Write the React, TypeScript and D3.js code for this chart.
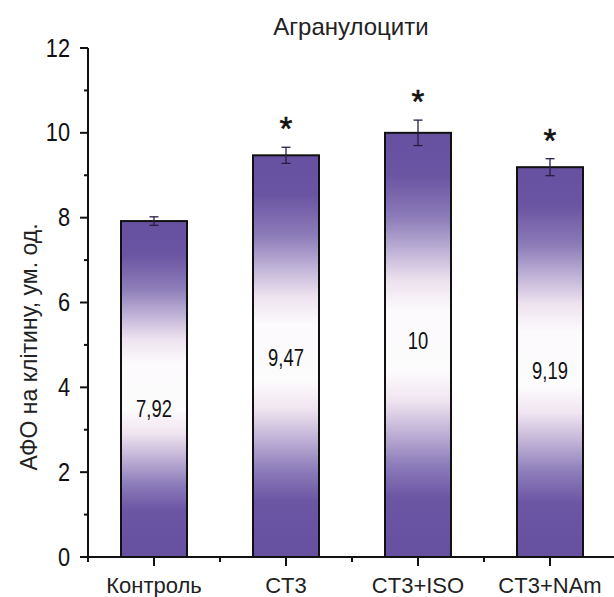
import React from "react";
import * as d3 from "d3";

const title = "Агранулоцити";
const yAxisTitle = "АФО на клітину, ум. од.";
const categories = ["Контроль", "CT3", "CT3+ISO", "CT3+NAm"];
const values = [7.92, 9.47, 10, 9.19];
const errors = [0.1, 0.19, 0.3, 0.2];
const valueLabels = ["7,92", "9,47", "10", "9,19"];
const valueLabelPos = [3.5, 4.7, 5.1, 4.4];
const significant = [false, true, true, true];
const yMajorTicks = [0, 2, 4, 6, 8, 10, 12];
const yMinorTicks = [1, 3, 5, 7, 9, 11];
const xMinorTicks = [0.5, 1.5, 2.5, 3.5, 4.5];

const W = 614;
const H = 597;
const FONT = "'Liberation Sans', Arial, sans-serif";

export default function App() {
  const x = d3.scaleLinear().domain([0.5, 4.5]).range([88, 616]);
  const y = d3.scaleLinear().domain([0, 12]).range([557, 48]);
  const barW = x(1.25) - x(0.75);

  const stops: [number, string][] = [
    [0, "#6650a0"],
    [0.1, "#6a55a3"],
    [0.2, "#8c7cb8"],
    [0.29, "#c6badb"],
    [0.35, "#ede2ee"],
    [0.42, "#fcfafc"],
    [0.56, "#fdfcfd"],
    [0.63, "#f0e5f0"],
    [0.7, "#c3b6d8"],
    [0.78, "#8e7ebb"],
    [0.86, "#6b56a4"],
    [1, "#6650a0"],
  ];

  return (
    <svg
      width={W}
      height={H}
      style={{ position: "absolute", left: 0, top: 0, background: "#fff" }}
      fontFamily={FONT}
    >
      <defs>
        <linearGradient id="barGrad" x1="0" y1="0" x2="0" y2="1">
          {stops.map(([o, c], i) => (
            <stop key={i} offset={o} stopColor={c} />
          ))}
        </linearGradient>
      </defs>

      {/* title */}
      <text x={351} y={35} textAnchor="middle" fontSize={24} fill="#222">
        {title}
      </text>

      {/* y axis title */}
      <text
        transform={`translate(29,${347}) rotate(-90)`}
        textAnchor="middle"
        dominantBaseline="central"
        fontSize={23}
        fill="#222"
      >
        {yAxisTitle}
      </text>

      {/* bars */}
      {values.map((v, i) => {
        const cx = x(i + 1);
        const top = y(v);
        const bottom = y(0);
        return (
          <g key={i}>
            <rect
              x={cx - barW / 2}
              y={top}
              width={barW}
              height={bottom - top}
              fill="url(#barGrad)"
              stroke="#111"
              strokeWidth={2}
            />
            <text
              transform={`translate(${cx},${y(valueLabelPos[i])}) scale(0.8,1)`}
              textAnchor="middle"
              dominantBaseline="central"
              fontSize={23}
              fill="#111"
            >
              {valueLabels[i]}
            </text>
          </g>
        );
      })}

      {/* error bars */}
      {values.map((v, i) => {
        const cx = x(i + 1);
        const hi = y(v + errors[i]);
        const lo = y(v - errors[i]);
        return (
          <g key={"e" + i} stroke="#2a1d45" strokeWidth={1.3}>
            <line x1={cx} x2={cx} y1={hi} y2={lo} />
            <line x1={cx - 4.5} x2={cx + 4.5} y1={hi} y2={hi} />
            <line x1={cx - 4.5} x2={cx + 4.5} y1={lo} y2={lo} />
          </g>
        );
      })}

      {/* asterisks */}
      {values.map((v, i) =>
        significant[i] ? (
          <text
            key={"s" + i}
            x={x(i + 1)}
            y={y(v + errors[i]) - 7}
            textAnchor="middle"
            fontSize={33}
            fill="#111"
            stroke="#111"
            strokeWidth={0.6}
          >
            *
          </text>
        ) : null
      )}

      {/* y axis */}
      <line x1={88} x2={88} y1={y(12)} y2={y(0)} stroke="#111" strokeWidth={2} />
      {yMajorTicks.map((t) => (
        <g key={"ym" + t}>
          <line x1={80} x2={88} y1={y(t)} y2={y(t)} stroke="#111" strokeWidth={2} />
          <text
            transform={`translate(70,${y(t)}) scale(0.87,1)`}
            textAnchor="end"
            dominantBaseline="central"
            fontSize={25}
            fill="#111"
          >
            {t}
          </text>
        </g>
      ))}
      {yMinorTicks.map((t) => (
        <line key={"yn" + t} x1={84} x2={88} y1={y(t)} y2={y(t)} stroke="#111" strokeWidth={2} />
      ))}

      {/* x axis */}
      <line x1={87} x2={W} y1={y(0)} y2={y(0)} stroke="#111" strokeWidth={2} />
      {categories.map((c, i) => (
        <g key={"xm" + i}>
          <line x1={x(i + 1)} x2={x(i + 1)} y1={y(0)} y2={y(0) + 9} stroke="#111" strokeWidth={2} />
          <text x={x(i + 1)} y={593} textAnchor="middle" fontSize={22} fill="#222">
            {c}
          </text>
        </g>
      ))}
      {xMinorTicks.map((t) => (
        <line key={"xn" + t} x1={x(t)} x2={x(t)} y1={y(0)} y2={y(0) + 5} stroke="#111" strokeWidth={2} />
      ))}
    </svg>
  );
}
